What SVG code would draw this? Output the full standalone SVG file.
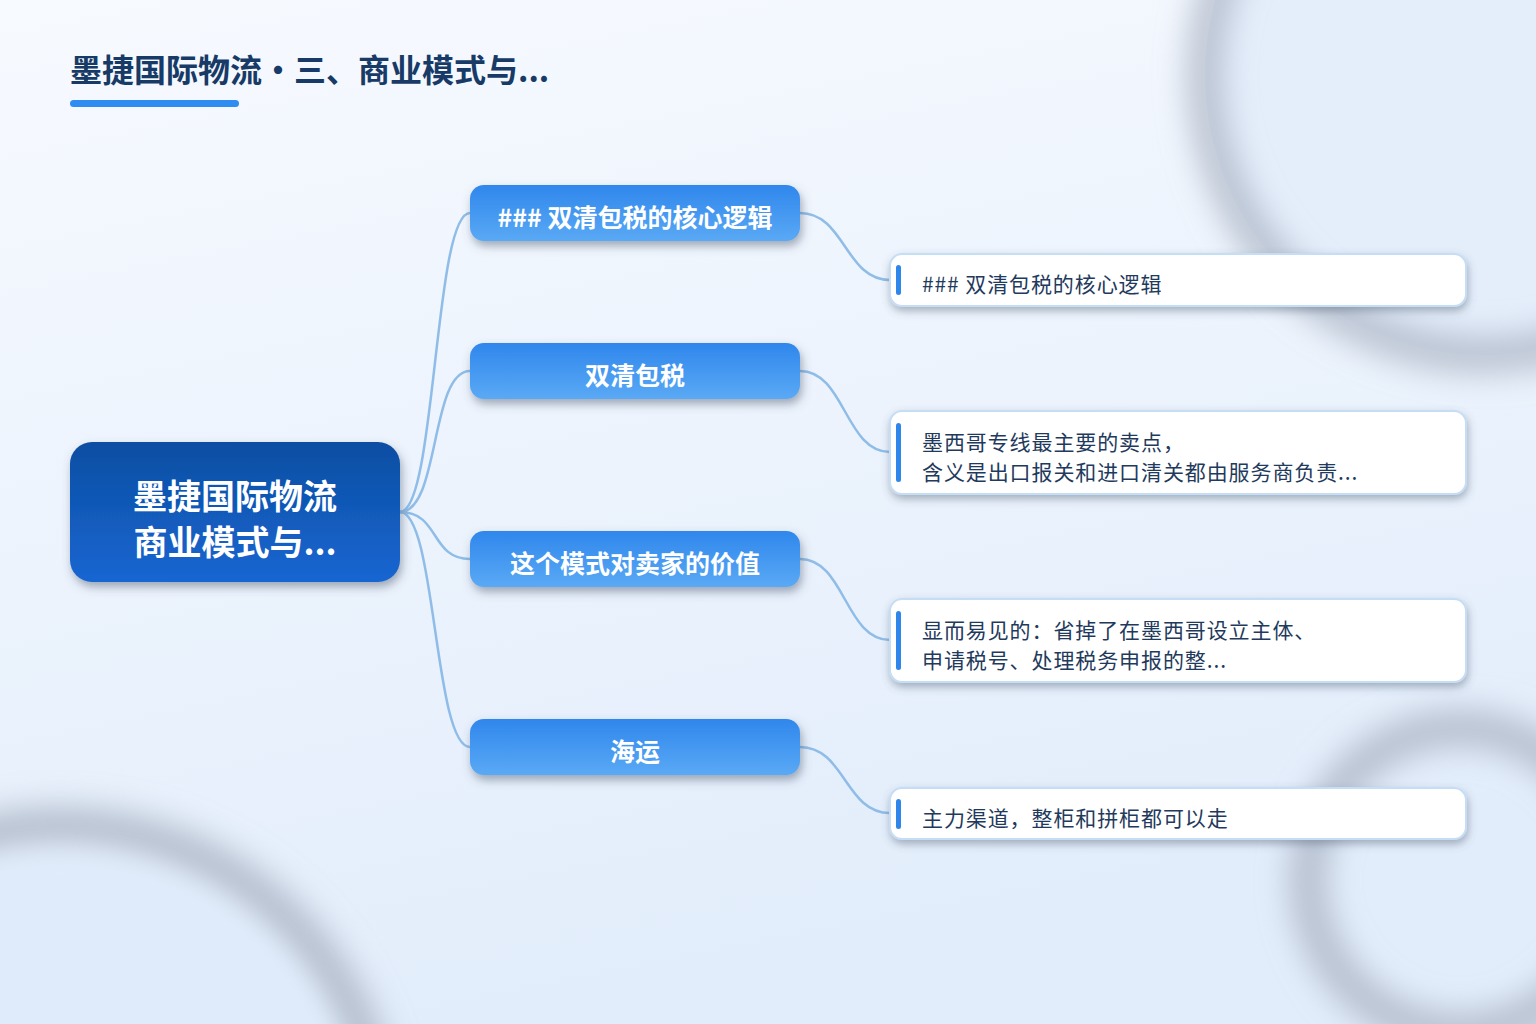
<svg xmlns="http://www.w3.org/2000/svg" width="1536" height="1024" viewBox="0 0 1536 1024">
<defs>
<linearGradient id="bg" x1="0" y1="0" x2="0.3" y2="1">
<stop offset="0" stop-color="#f7faff"/>
<stop offset="1" stop-color="#e2edfb"/>
</linearGradient>
<linearGradient id="rootG" x1="0" y1="0" x2="0" y2="1">
<stop offset="0" stop-color="#0d4ea2"/>
<stop offset="1" stop-color="#1666d2"/>
</linearGradient>
<linearGradient id="l1G" x1="0" y1="0" x2="0" y2="1">
<stop offset="0" stop-color="#2f87ec"/>
<stop offset="1" stop-color="#5aa9f5"/>
</linearGradient>
<filter id="blur" x="-50%" y="-50%" width="200%" height="200%">
<feGaussianBlur stdDeviation="16"/>
</filter>
<filter id="sh" x="-10%" y="-20%" width="120%" height="160%">
<feDropShadow dx="2" dy="5" stdDeviation="5" flood-color="#4a5a70" flood-opacity="0.5"/>
</filter>
<filter id="shs" x="-10%" y="-20%" width="120%" height="160%">
<feDropShadow dx="1" dy="4" stdDeviation="4" flood-color="#4a5a70" flood-opacity="0.45"/>
</filter>
<style>
.title{font-family:"Noto Sans CJK SC","Noto Sans",sans-serif;font-weight:700;font-size:32px;fill:#173b66}
.root{font-family:"Noto Sans CJK SC","Noto Sans",sans-serif;font-weight:700;font-size:34px;fill:#ffffff}
.l1{font-family:"Noto Sans CJK SC","Noto Sans",sans-serif;font-weight:700;font-size:25px;fill:#ffffff}
.leaf{font-family:"Noto Sans CJK SC","Noto Sans",sans-serif;font-size:21px;letter-spacing:0.9px;fill:#1f3a5c}
.card{fill:#ffffff;stroke:#c6ddf6;stroke-width:2}
.bar{fill:#2f86ea}
.conn{fill:none;stroke:#8fbde8;stroke-width:2.5}
.ring{fill:none;stroke:#a4aebd;stroke-opacity:0.75}
</style>
</defs>
<rect width="1536" height="1024" fill="url(#bg)"/>
<g id="decor">
<circle cx="1485" cy="75" r="280" fill="#e4eefb"/>
<circle class="ring" cx="1485" cy="75" r="280" stroke-width="34" filter="url(#blur)"/>
<circle class="ring" cx="60" cy="1150" r="322" stroke-width="42" filter="url(#blur)"/>
<circle cx="60" cy="1150" r="298" fill="#dfebfb" filter="url(#blur)"/>
<circle class="ring" cx="1460" cy="880" r="152" stroke-width="36" stroke-opacity="0.6" filter="url(#blur)"/>
</g>
<g id="title">
<text class="title" x="70" y="82">墨捷国际物流・三、商业模式与...</text>
<rect x="70" y="100" width="169" height="7" rx="3.5" fill="#2f8cf0"/>
</g>
<g id="connectors">
<path class="conn" d="M400,512 C436,512 434,213 470,213"/>
<path class="conn" d="M400,512 C440,512 430,371 470,371"/>
<path class="conn" d="M400,512 C440,512 430,559 470,559"/>
<path class="conn" d="M400,512 C436,512 434,747 470,747"/>
<path class="conn" d="M800,213 C845,213 845,280 890,280"/>
<path class="conn" d="M800,371 C845,371 845,452 890,452"/>
<path class="conn" d="M800,559 C845,559 845,640 890,640"/>
<path class="conn" d="M800,747 C845,747 845,813 890,813"/>
</g>
<g id="root">
<rect x="70" y="442" width="330" height="140" rx="22" fill="url(#rootG)" filter="url(#sh)"/>
<text class="root" x="235" y="509" text-anchor="middle">墨捷国际物流</text>
<text class="root" x="235" y="555" text-anchor="middle">商业模式与...</text>
</g>
<g id="n1">
<rect x="470" y="185" width="330" height="56" rx="14" fill="url(#l1G)" filter="url(#sh)"/>
<text class="l1" x="635" y="227" text-anchor="middle">### 双清包税的核心逻辑</text>
</g>
<g id="n2">
<rect x="470" y="343" width="330" height="56" rx="14" fill="url(#l1G)" filter="url(#sh)"/>
<text class="l1" x="635" y="385" text-anchor="middle">双清包税</text>
</g>
<g id="n3">
<rect x="470" y="531" width="330" height="56" rx="14" fill="url(#l1G)" filter="url(#sh)"/>
<text class="l1" x="635" y="573" text-anchor="middle">这个模式对卖家的价值</text>
</g>
<g id="n4">
<rect x="470" y="719" width="330" height="56" rx="14" fill="url(#l1G)" filter="url(#sh)"/>
<text class="l1" x="635" y="761" text-anchor="middle">海运</text>
</g>
<g id="leaf1">
<rect class="card" x="890" y="254" width="576" height="52" rx="12" filter="url(#shs)"/>
<rect class="bar" x="896" y="265" width="5" height="30" rx="2.5"/>
<text class="leaf" x="922" y="292">### 双清包税的核心逻辑</text>
</g>
<g id="leaf2">
<rect class="card" x="890" y="411" width="576" height="83" rx="12" filter="url(#shs)"/>
<rect class="bar" x="896" y="423" width="5" height="59" rx="2.5"/>
<text class="leaf" x="922" y="450">墨西哥专线最主要的卖点，</text>
<text class="leaf" x="922" y="480">含义是出口报关和进口清关都由服务商负责...</text>
</g>
<g id="leaf3">
<rect class="card" x="890" y="599" width="576" height="83" rx="12" filter="url(#shs)"/>
<rect class="bar" x="896" y="611" width="5" height="59" rx="2.5"/>
<text class="leaf" x="922" y="638">显而易见的：省掉了在墨西哥设立主体、</text>
<text class="leaf" x="922" y="668">申请税号、处理税务申报的整...</text>
</g>
<g id="leaf4">
<rect class="card" x="890" y="788" width="576" height="51" rx="12" filter="url(#shs)"/>
<rect class="bar" x="896" y="799" width="5" height="30" rx="2.5"/>
<text class="leaf" x="922" y="826">主力渠道，整柜和拼柜都可以走</text>
</g>
</svg>
